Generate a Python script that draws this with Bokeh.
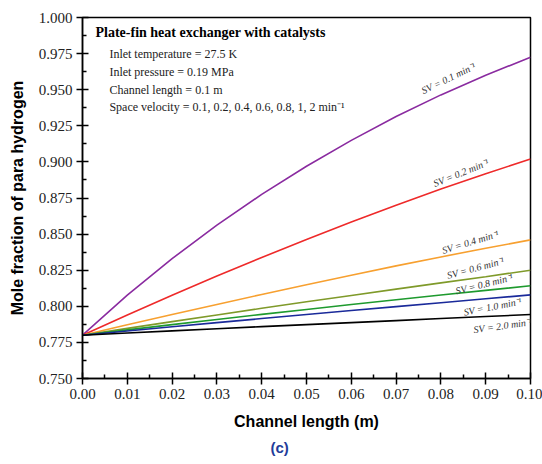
from bokeh.plotting import figure
from bokeh.models import Label, FixedTicker, NumeralTickFormatter, ColumnDataSource, Title
from bokeh.core.properties import value
from bokeh.embed import file_html
from bokeh.resources import INLINE

channel_length = [0.00, 0.01, 0.02, 0.03, 0.04, 0.05, 0.06, 0.07, 0.08, 0.09, 0.10]
sv_0_1 = [0.780, 0.8077, 0.8330, 0.8562, 0.8775, 0.8970, 0.9149, 0.9314, 0.9464, 0.9600, 0.9725]
sv_0_2 = [0.780, 0.7940, 0.8076, 0.8210, 0.8338, 0.8462, 0.8583, 0.8700, 0.8812, 0.8918, 0.9020]
sv_0_4 = [0.780, 0.7872, 0.7943, 0.8013, 0.8082, 0.8149, 0.8215, 0.8280, 0.8342, 0.8402, 0.8460]
sv_0_6 = [0.780, 0.7847, 0.7894, 0.7940, 0.7986, 0.8031, 0.8075, 0.8119, 0.8162, 0.8205, 0.8250]
sv_0_8 = [0.780, 0.7837, 0.7873, 0.7909, 0.7944, 0.7978, 0.8012, 0.8045, 0.8078, 0.8110, 0.8142]
sv_1_0 = [0.780, 0.7829, 0.7858, 0.7887, 0.7915, 0.7943, 0.7971, 0.7998, 0.8025, 0.8052, 0.8079]
sv_2_0 = [0.780, 0.7815, 0.7830, 0.7845, 0.7859, 0.7873, 0.7887, 0.7901, 0.7915, 0.7929, 0.7943]

series = [sv_0_1, sv_0_2, sv_0_4, sv_0_6, sv_0_8, sv_1_0, sv_2_0]
series_labels = ["SV = 0.1 min\u207b\u00b9", "SV = 0.2 min\u207b\u00b9", "SV = 0.4 min\u207b\u00b9",
                 "SV = 0.6 min\u207b\u00b9", "SV = 0.8 min\u207b\u00b9", "SV = 1.0 min\u207b\u00b9",
                 "SV = 2.0 min\u207b\u00b9"]
colors = ["#8A2BA0", "#EE2A2A", "#F7A030", "#7F9A2A", "#1E9A2E", "#1A2A9A", "#000000"]

x_ticks = [0.00, 0.01, 0.02, 0.03, 0.04, 0.05, 0.06, 0.07, 0.08, 0.09, 0.10]
y_ticks = [0.750, 0.775, 0.800, 0.825, 0.850, 0.875, 0.900, 0.925, 0.950, 0.975, 1.000]

notes = ["Inlet temperature = 27.5 K", "Inlet pressure = 0.19 MPa", "Channel length = 0.1 m",
         "Space velocity = 0.1, 0.2, 0.4, 0.6, 0.8, 1, 2 min\u207b\u00b9"]
heading = "Plate-fin heat exchanger with catalysts"
panel_tag = "(c)"

p = figure(width=542, height=464, output_backend="svg", toolbar_location=None,
           x_range=(0.0, 0.10), y_range=(0.750, 1.000),
           min_border_left=82, min_border_right=12, min_border_top=17, min_border_bottom=86)
p.grid.visible = False
p.outline_line_color = "black"
p.outline_line_width = 1.5
p.background_fill_color = "white"
p.border_fill_color = "white"

for ys, c in zip(series, colors):
    p.line(channel_length, ys, line_color=c, line_width=1.6)

serif = "Liberation Serif"
sans = "Liberation Sans"

# axes
p.xaxis.ticker = FixedTicker(ticks=x_ticks, minor_ticks=[t + 0.005 for t in x_ticks[:-1]])
p.yaxis.ticker = FixedTicker(ticks=y_ticks, minor_ticks=[t + 0.0125 for t in y_ticks[:-1]])
p.xaxis.formatter = NumeralTickFormatter(format="0.00")
p.yaxis.formatter = NumeralTickFormatter(format="0.000")
for ax in (p.xaxis, p.yaxis):
    ax.axis_line_width = 1.5
    ax.major_tick_line_width = 1.5
    ax.minor_tick_line_width = 1.5
    ax.major_tick_in = 6
    ax.major_tick_out = 6
    ax.minor_tick_in = 4
    ax.minor_tick_out = 0
    ax.major_label_text_font = serif
    ax.major_label_text_font_size = "15px"
    ax.major_label_text_color = "#222222"
    ax.axis_label_text_font = sans
    ax.axis_label_text_font_style = "bold"
    ax.axis_label_text_font_size = "16px"
    ax.axis_label_text_color = "black"
p.xaxis.axis_label = "Channel length (m)"
p.yaxis.axis_label = "Mole fraction of para hydrogen"
p.xaxis.major_label_standoff = 4
p.yaxis.major_label_standoff = 4
p.xaxis.axis_label_standoff = 11
p.yaxis.axis_label_standoff = 10

# panel tag below the x-axis
p.add_layout(Title(text=panel_tag, align="left", offset=188, text_font=sans,
                   text_font_style="bold", text_font_size="15px", text_color="#1F3C9A",
                   standoff=9), "below")

# annotation block
p.add_layout(Label(x=0.0029, y=0.9896, text=heading, text_font=serif, text_font_style="bold",
                   text_font_size="14px", text_baseline="middle", text_color="black"))
note_y = [0.975, 0.9626, 0.950, 0.9377]
for t, yy in zip(notes, note_y):
    p.add_layout(Label(x=0.006, y=yy, text=t, text_font=serif, text_font_size="12px",
                       text_baseline="middle", text_color="#222222"))

# curve labels
lab_x = [0.0758, 0.0784, 0.0803, 0.0814, 0.0833, 0.0851, 0.0873]
lab_y = [0.949, 0.8848, 0.8386, 0.8213, 0.8105, 0.7959, 0.7837]
lab_ang = [26, 22, 17, 15, 14, 11, 8]
src = ColumnDataSource(dict(x=lab_x, y=lab_y, text=series_labels, angle=lab_ang))
p.text(x="x", y="y", text="text", angle="angle", angle_units="deg", source=src,
       text_font=value(serif), text_font_style="italic", text_font_size="10px",
       text_color="#333333", text_baseline="alphabetic")

open("out.html", "w").write(file_html(p, INLINE))
